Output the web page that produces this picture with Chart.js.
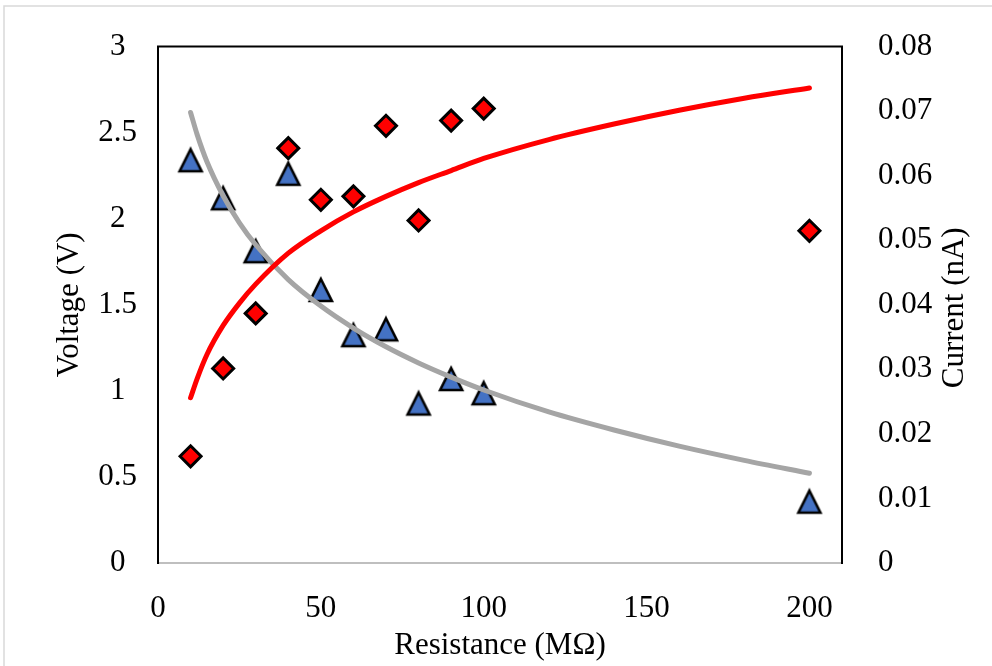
<!DOCTYPE html>
<html>
<head>
<meta charset="utf-8">
<script src="https://cdn.jsdelivr.net/npm/chart.js@4"></script>
<style>
    html, body { margin: 0; padding: 0; background: #ffffff; overflow: hidden; }
    #chart-container { position: relative; width: 992px; height: 666px; }
</style>
</head>
<body>
<div id="chart-container"><canvas id="chart"></canvas></div>
<script>
// Widerstand (MOhm) der Messpunkte
const resistance = [10, 20, 30, 40, 50, 60, 70, 80, 90, 100, 200];
// Spannung (V), linke Achse
const voltage = [0.62, 1.13, 1.45, 2.41, 2.11, 2.13, 2.54, 1.99, 2.57, 2.64, 1.93];
// Strom (nA), rechte Achse
const current = [0.0624, 0.0565, 0.0483, 0.0603, 0.0423, 0.0353, 0.0362, 0.0247, 0.0285, 0.0263, 0.0095];

// Trendlinien
const trendX = [10, 12, 15, 20, 25, 30, 40, 50, 60, 70, 80, 90, 100, 120, 140, 160, 180, 200];
const voltageTrend = [0.96, 1.07, 1.21, 1.38, 1.51, 1.62, 1.80, 1.93, 2.04, 2.13, 2.21, 2.28, 2.35, 2.46, 2.55, 2.63, 2.70, 2.76];
const currentTrend = [0.0698, 0.0664, 0.0622, 0.0569, 0.0527, 0.0493, 0.0439, 0.0398, 0.0364, 0.0335, 0.0310, 0.0288, 0.0268, 0.0234, 0.0206, 0.0181, 0.0159, 0.0139];

// Achsenbeschriftung
const xTicks = [0, 50, 100, 150, 200];
const voltageTicks = [0, 0.5, 1, 1.5, 2, 2.5, 3];
const currentTicks = [0, 0.01, 0.02, 0.03, 0.04, 0.05, 0.06, 0.07, 0.08];

const xTitle = 'Resistance (MΩ)';
const leftTitle = 'Voltage (V)';
const rightTitle = 'Current (nA)';

const fontFamily = '"Liberation Serif", "Times New Roman", serif';
const fontSize = 31;

function toPoints(xs, ys) {
    return xs.map((x, i) => ({ x: x, y: ys[i] }));
}

// Dreieck als eigenes Punktsymbol (so breit wie hoch)
function makeTriangle() {
    const c = document.createElement('canvas');
    c.width = 32;
    c.height = 32;
    const g = c.getContext('2d');
    g.beginPath();
    g.moveTo(16, 5);
    g.lineTo(27, 27);
    g.lineTo(5, 27);
    g.closePath();
    g.fillStyle = '#4472c4';
    g.fill();
    g.lineWidth = 2.6;
    g.lineJoin = 'miter';
    g.strokeStyle = '#000000';
    g.stroke();
    return c;
}
const triangleMarker = makeTriangle();

// Rahmen, obere Linie und rechter Achsentitel
const framePlugin = {
    id: 'framePlugin',
    beforeDraw(chart) {
        const ctx = chart.ctx;
        ctx.save();
        ctx.strokeStyle = '#d9d9d9';
        ctx.lineWidth = 1.5;
        ctx.strokeRect(4, 6, 1100, 800);
        ctx.restore();
    },
    afterDraw(chart) {
        const ctx = chart.ctx;
        const area = chart.chartArea;
        ctx.save();
        ctx.strokeStyle = '#000000';
        ctx.lineWidth = 2;
        ctx.beginPath();
        ctx.moveTo(area.left - 1, area.top);
        ctx.lineTo(area.right + 1, area.top);
        ctx.stroke();

        ctx.fillStyle = '#000000';
        ctx.font = fontSize + 'px ' + fontFamily;
        ctx.textAlign = 'center';
        ctx.textBaseline = 'middle';
        ctx.translate(955, (area.top + area.bottom) / 2 + 3);
        ctx.rotate(-Math.PI / 2);
        ctx.fillText(rightTitle, 0, 0);
        ctx.restore();
    }
};

const tickFont = { family: fontFamily, size: fontSize };

new Chart(document.getElementById('chart'), {
    type: 'scatter',
    data: {
        datasets: [
            {
                label: 'Voltage trend',
                data: toPoints(trendX, voltageTrend),
                yAxisID: 'y',
                showLine: true,
                borderColor: '#ff0000',
                borderWidth: 5,
                borderCapStyle: 'round',
                pointRadius: 0,
                cubicInterpolationMode: 'monotone'
            },
            {
                label: 'Current trend',
                data: toPoints(trendX, currentTrend),
                yAxisID: 'y1',
                showLine: true,
                borderColor: '#a5a5a5',
                borderWidth: 5,
                borderCapStyle: 'round',
                pointRadius: 0,
                cubicInterpolationMode: 'monotone'
            },
            {
                label: 'Voltage',
                data: toPoints(resistance, voltage),
                yAxisID: 'y',
                pointStyle: 'rectRot',
                pointRadius: 10.5,
                pointHoverRadius: 10.5,
                backgroundColor: '#ff0000',
                borderColor: '#000000',
                borderWidth: 3
            },
            {
                label: 'Current',
                data: toPoints(resistance, current),
                yAxisID: 'y1',
                pointStyle: triangleMarker,
                pointRadius: 12,
                pointHoverRadius: 12
            }
        ]
    },
    options: {
        responsive: true,
        maintainAspectRatio: false,
        animation: false,
        layout: { padding: { top: 44, left: 0, right: 0, bottom: 0 } },
        plugins: {
            legend: { display: false },
            tooltip: { enabled: false }
        },
        scales: {
            x: {
                type: 'linear',
                min: 0,
                max: 210,
                afterBuildTicks: scale => { scale.ticks = xTicks.map(v => ({ value: v })); },
                afterFit: scale => { scale.height = 103; },
                grid: { display: false },
                border: { display: true, color: '#bfbfbf', width: 2 },
                ticks: { font: tickFont, color: '#000000', padding: 19, maxRotation: 0 },
                title: {
                    display: true,
                    text: xTitle,
                    font: tickFont,
                    color: '#000000',
                    padding: { top: 0, bottom: 2 }
                }
            },
            y: {
                position: 'left',
                min: 0,
                max: 3,
                afterBuildTicks: scale => { scale.ticks = voltageTicks.map(v => ({ value: v })); },
                afterFit: scale => { scale.width = 158; },
                grid: { display: false },
                border: { display: true, color: '#000000', width: 2 },
                ticks: {
                    font: tickFont,
                    color: '#000000',
                    padding: 13,
                    crossAlign: 'center',
                    callback: v => String(v)
                },
                title: {
                    display: true,
                    text: leftTitle,
                    font: tickFont,
                    color: '#000000',
                    padding: { top: 51, bottom: 0 }
                }
            },
            y1: {
                position: 'right',
                min: 0,
                max: 0.08,
                afterBuildTicks: scale => { scale.ticks = currentTicks.map(v => ({ value: v })); },
                afterFit: scale => { scale.width = 150; },
                grid: { display: false },
                border: { display: true, color: '#000000', width: 2 },
                ticks: {
                    font: tickFont,
                    color: '#000000',
                    padding: 28,
                    callback: v => String(Math.round(v * 100) / 100)
                }
            }
        }
    },
    plugins: [framePlugin]
});
</script>
</body>
</html>
